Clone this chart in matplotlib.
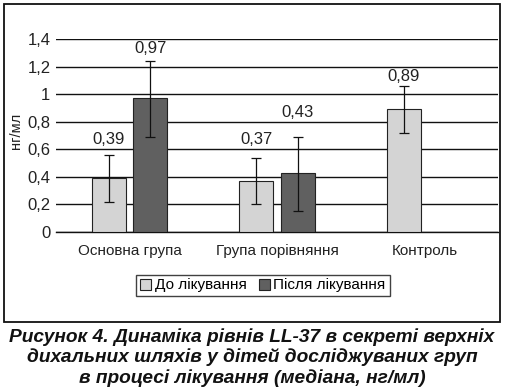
import matplotlib
matplotlib.use("Agg")
import matplotlib.pyplot as plt
import numpy as np
from matplotlib.patches import Rectangle

categories = ["Основна група", "Група порівняння", "Контроль"]
series_names = ["До лікування", "Після лікування"]
before = [0.39, 0.37, 0.89]
after = [0.97, 0.43, np.nan]
before_lo = [0.22, 0.20, 0.72]
before_hi = [0.56, 0.54, 1.06]
after_lo = [0.69, 0.155, np.nan]
after_hi = [1.24, 0.69, np.nan]
before_labels = ["0,39", "0,37", "0,89"]
after_labels = ["0,97", "0,43", ""]
yticks = [0, 0.2, 0.4, 0.6, 0.8, 1.0, 1.2, 1.4]
ytick_labels = ["0", "0,2", "0,4", "0,6", "0,8", "1", "1,2", "1,4"]
ylabel = "нг/мл"
caption = ("Рисунок 4. Динаміка рівнів LL-37 в секреті верхніх\n"
           "дихальних шляхів у дітей досліджуваних груп\n"
           "в процесі лікування (медіана, нг/мл)")

plt.rcParams['font.family'] = ['Liberation Sans', 'DejaVu Sans']

fig = plt.figure(figsize=(5.05, 3.90), dpi=100)
W, H = 505, 390
ax = fig.add_axes([56 / W, 1 - 232 / H, (498 - 56) / W, (232 - 39) / H])

x = np.arange(len(categories))
bw = 0.23
off = 0.14
light = "#d4d4d4"
dark = "#606060"

b1 = ax.bar(x - off, before, bw, color=light, edgecolor="#222222", linewidth=0.8, zorder=3, label=series_names[0])
b2 = ax.bar(x + off, after, bw, color=dark, edgecolor="#222222", linewidth=0.8, zorder=3, label=series_names[1])

bef = np.array(before); aft = np.array(after)
err_b = [bef - np.array(before_lo), np.array(before_hi) - bef]
err_a = [aft - np.array(after_lo), np.array(after_hi) - aft]
ax.errorbar(x - off, bef, yerr=err_b, fmt="none", ecolor="#111111", elinewidth=0.9, capsize=3.5, capthick=0.9, zorder=4)
ax.errorbar(x + off, aft, yerr=err_a, fmt="none", ecolor="#111111", elinewidth=0.9, capsize=3.5, capthick=0.9, zorder=4)

# value labels (placed above error bars)
lab_b_off = [0.11, 0.13, 0.07]
lab_a_off = [0.09, 0.18, 0]
for i in range(len(categories)):
    ax.text(x[i] - off, before_hi[i] + lab_b_off[i], before_labels[i], ha="center", va="center",
            fontsize=12, color="#222222", clip_on=False)
    if after_labels[i]:
        ax.text(x[i] + off, after_hi[i] + lab_a_off[i], after_labels[i], ha="center", va="center",
                fontsize=12, color="#222222", clip_on=False)

ax.set_xlim(-0.5, 2.5)
ax.set_ylim(0, 1.4)
ax.set_yticks(yticks)
ax.set_yticklabels(ytick_labels, fontsize=12, color="#222222")
ax.set_xticks(x)
ax.set_xticklabels(categories, fontsize=11, color="#222222")
ax.tick_params(axis="both", length=0)
ax.tick_params(axis="x", pad=9)
ax.tick_params(axis="y", pad=4)
ax.grid(axis="y", color="#111111", linewidth=1.0, zorder=0)
for s in ["top", "right", "left"]:
    ax.spines[s].set_visible(False)
ax.spines["bottom"].set_color("#111111")
ax.spines["bottom"].set_linewidth(1.0)

fig.text(16 / W, 1 - 131 / H, ylabel, rotation=90, ha="center", va="center", fontsize=10.5, color="#222222")

leg = fig.legend(handles=[b1, b2], labels=series_names, loc="center", bbox_to_anchor=(263 / W, 1 - 285.5 / H),
                 ncol=2, fontsize=11, frameon=True, fancybox=False, edgecolor="#111111",
                 handlelength=0.7, handleheight=0.7, handletextpad=0.25, columnspacing=0.8,
                 borderpad=0.25, borderaxespad=0)
leg.get_frame().set_linewidth(1.0)

# outer border
fig.patches.append(Rectangle((4 / W, 1 - 322 / H), (500 - 4) / W, (322 - 4) / H, transform=fig.transFigure,
                             fill=False, edgecolor="#111111", linewidth=1.3))

fig.text(252 / W, 1 - 357.5 / H, caption, ha="center", va="center", fontsize=13.8, fontweight="bold",
         fontstyle="italic", color="#111111", linespacing=1.17)

fig.savefig("out.png", dpi=100)
